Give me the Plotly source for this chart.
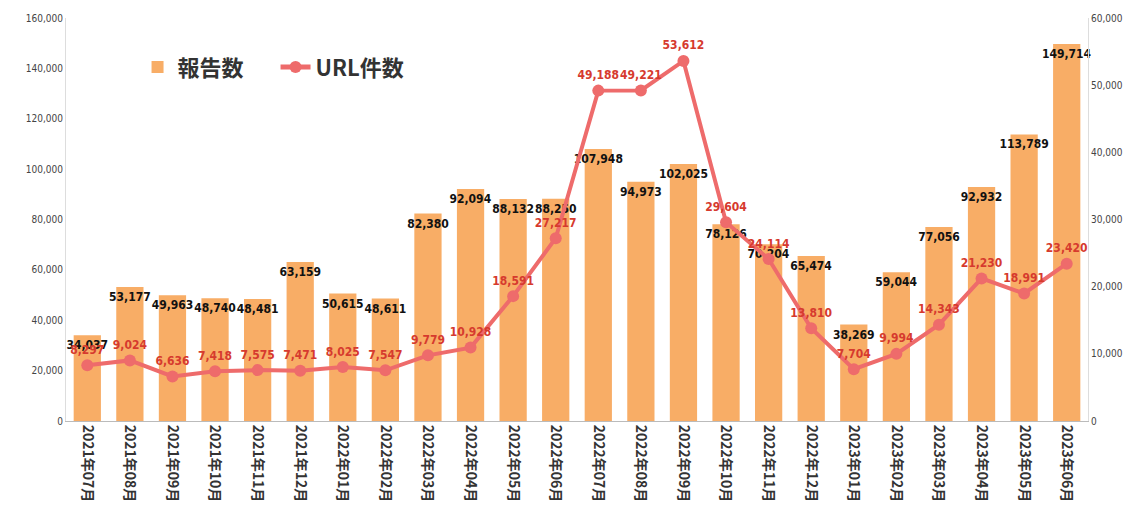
import plotly.graph_objects as go

months = ["2021年07月", "2021年08月", "2021年09月", "2021年10月", "2021年11月", "2021年12月",
          "2022年01月", "2022年02月", "2022年03月", "2022年04月", "2022年05月", "2022年06月",
          "2022年07月", "2022年08月", "2022年09月", "2022年10月", "2022年11月", "2022年12月",
          "2023年01月", "2023年02月", "2023年03月", "2023年04月", "2023年05月", "2023年06月"]
reports = [34037, 53177, 49963, 48740, 48481, 63159, 50615, 48611, 82380, 92094, 88132, 88250,
           107948, 94973, 102025, 78126, 70204, 65474, 38269, 59044, 77056, 92932, 113789, 149714]
urls = [8297, 9024, 6636, 7418, 7575, 7471, 8025, 7547, 9779, 10928, 18591, 27217,
        49188, 49221, 53612, 29604, 24114, 13810, 7704, 9994, 14343, 21230, 18991, 23420]

left_ticks = [0, 20000, 40000, 60000, 80000, 100000, 120000, 140000, 160000]
right_ticks = [0, 10000, 20000, 30000, 40000, 50000, 60000]

narrow = "DejaVu Sans Condensed, Liberation Sans Narrow, Liberation Sans, sans-serif"
cjk = "Noto Sans CJK JP, sans-serif"

fig = go.Figure()
fig.add_trace(go.Bar(
    x=months, y=reports, name="報告数",
    marker=dict(color="#F8AD66", line=dict(width=0)),
    text=[f"{v:,}" for v in reports], textposition="inside",
    insidetextanchor="end", textangle=0,
    constraintext="none",
    textfont=dict(family=narrow, size=12, color="#111111", weight="bold"),
    cliponaxis=False,
))
fig.add_trace(go.Scatter(
    x=months, y=urls, name="URL件数", yaxis="y2",
    mode="lines+markers+text",
    line=dict(color="#EE6B6B", width=4),
    marker=dict(color="#EE6B6B", size=12),
    text=[f"{v:,}" for v in urls], textposition="top center",
    textfont=dict(family=narrow, size=12, color="#D63A2E", weight="bold"),
    cliponaxis=False,
))

fig.update_layout(
    width=1136, height=526,
    margin=dict(l=66, r=48, t=15, b=105),
    paper_bgcolor="white", plot_bgcolor="white",
    bargap=0.36,
    showlegend=True,
    legend=dict(orientation="h", x=0.07, y=0.93, xanchor="left", yanchor="top",
                font=dict(family=cjk, size=22, color="#333333", weight="bold"),
                entrywidth=93, entrywidthmode="pixels",
                itemsizing="constant", bgcolor="rgba(0,0,0,0)"),
    xaxis=dict(type="category", range=[-0.5, 23.5], tickangle=90, showgrid=False,
               showline=True, linecolor="#BBBBBB", linewidth=1, ticks="",
               tickfont=dict(family=cjk, size=14, color="#333333", weight="bold")),
    yaxis=dict(range=[0, 160000], tickvals=left_ticks,
               ticktext=[f"{v:,}" for v in left_ticks],
               showgrid=False, zeroline=False,
               showline=True, linecolor="#DDDDDD", linewidth=1, ticks="",
               tickfont=dict(family=narrow, size=10, color="#444444")),
    yaxis2=dict(range=[0, 60000], tickvals=right_ticks,
                ticktext=[f"{v:,}" for v in right_ticks],
                overlaying="y", side="right", showgrid=False, zeroline=False,
                showline=True, linecolor="#DDDDDD", linewidth=1, ticks="",
                tickfont=dict(family=narrow, size=10, color="#444444")),
)

fig.write_html("out.html")
